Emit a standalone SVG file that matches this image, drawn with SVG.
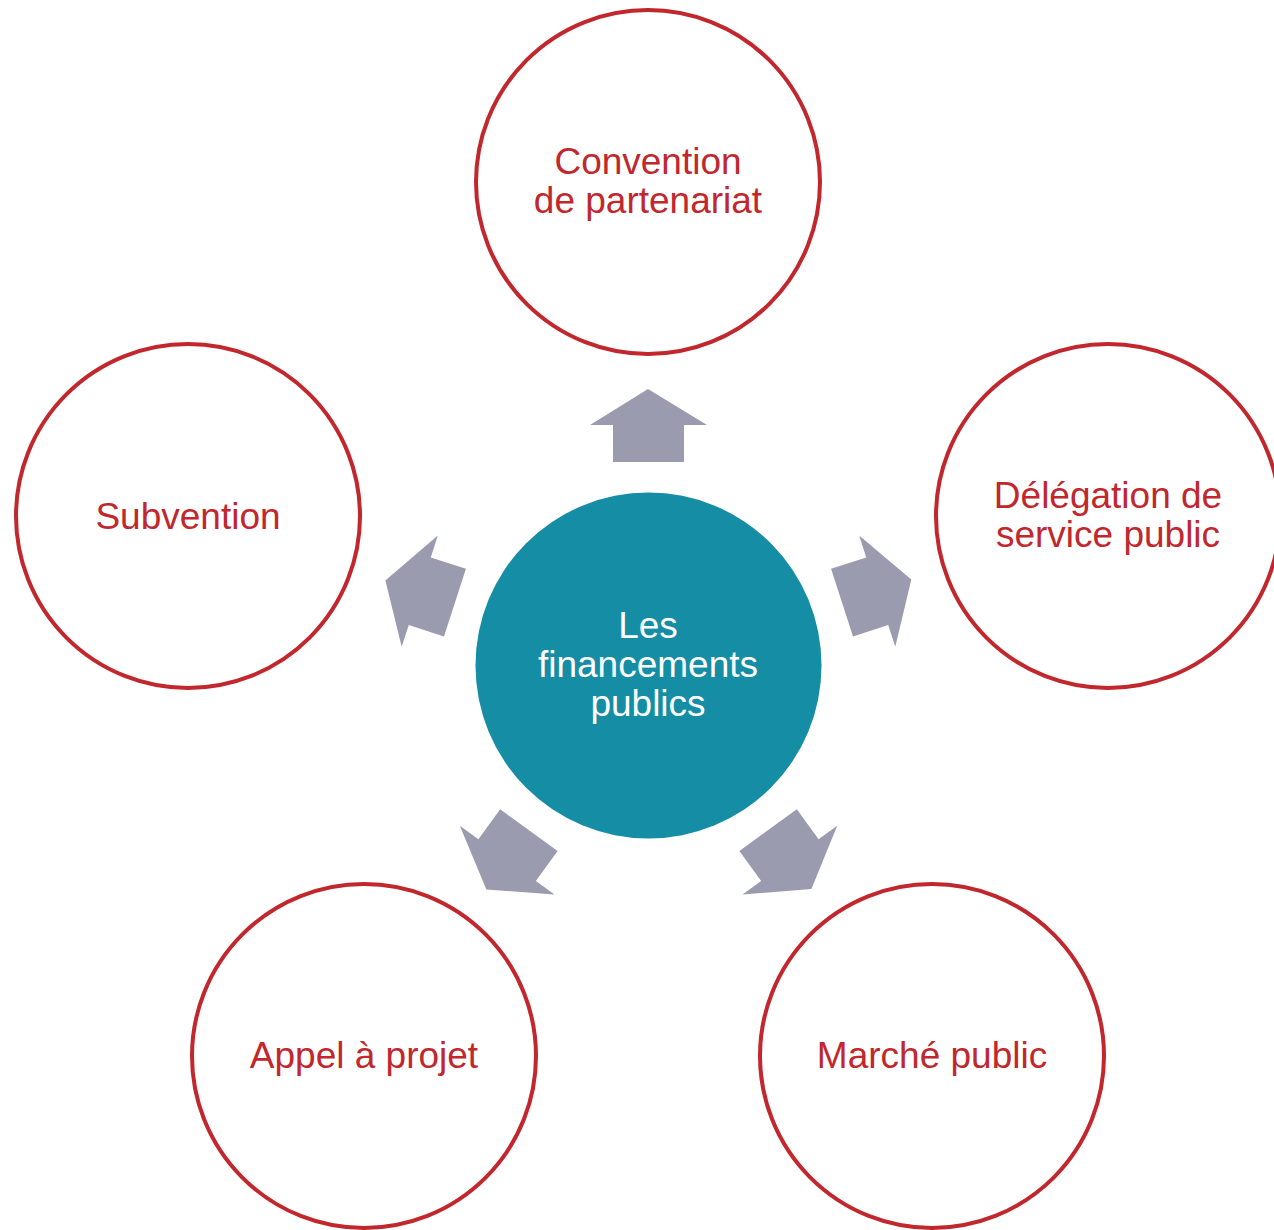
<svg xmlns="http://www.w3.org/2000/svg" width="1274" height="1230" viewBox="0 0 1274 1230">
<defs>
<style>
.node{fill:#fff;stroke:#C1272D;stroke-width:4}
.lbl{font-family:"Liberation Sans",Arial,sans-serif;font-size:37px;fill:#C1272D;text-anchor:middle}
.clbl{font-family:"Liberation Sans",Arial,sans-serif;font-size:37px;fill:#fff;text-anchor:middle}
.arr{fill:#9A9BAE}
</style>
<path id="arrow" d="M648,389 L707,425 L684,425 L684,462 L613,462 L613,425 L590,425 Z"/>
</defs>
<rect width="1274" height="1230" fill="#fff"/>
<g id="connectors">
<use href="#arrow" class="arr"/>
<use href="#arrow" class="arr" transform="rotate(72 648.5 665.5)"/>
<use href="#arrow" class="arr" transform="rotate(144 648.5 665.5)"/>
<use href="#arrow" class="arr" transform="rotate(216 648.5 665.5)"/>
<use href="#arrow" class="arr" transform="rotate(288 648.5 665.5)"/>
</g>
<g id="center">
<circle cx="648.5" cy="665.5" r="173" fill="#148DA5"/>
<text class="clbl" x="648" y="638">Les</text>
<text class="clbl" x="648" y="677">financements</text>
<text class="clbl" x="648" y="716">publics</text>
</g>
<g id="convention">
<circle class="node" cx="648" cy="182" r="172"/>
<text class="lbl" x="648" y="174">Convention</text>
<text class="lbl" x="648" y="213">de partenariat</text>
</g>
<g id="delegation">
<circle class="node" cx="1108" cy="516" r="172"/>
<text class="lbl" x="1108" y="508">Délégation de</text>
<text class="lbl" x="1108" y="547">service public</text>
</g>
<g id="marche">
<circle class="node" cx="932" cy="1056" r="172"/>
<text class="lbl" x="932" y="1068">Marché public</text>
</g>
<g id="appel">
<circle class="node" cx="364" cy="1056" r="172"/>
<text class="lbl" x="364" y="1068">Appel à projet</text>
</g>
<g id="subvention">
<circle class="node" cx="188" cy="516" r="172"/>
<text class="lbl" x="188" y="529">Subvention</text>
</g>
</svg>
